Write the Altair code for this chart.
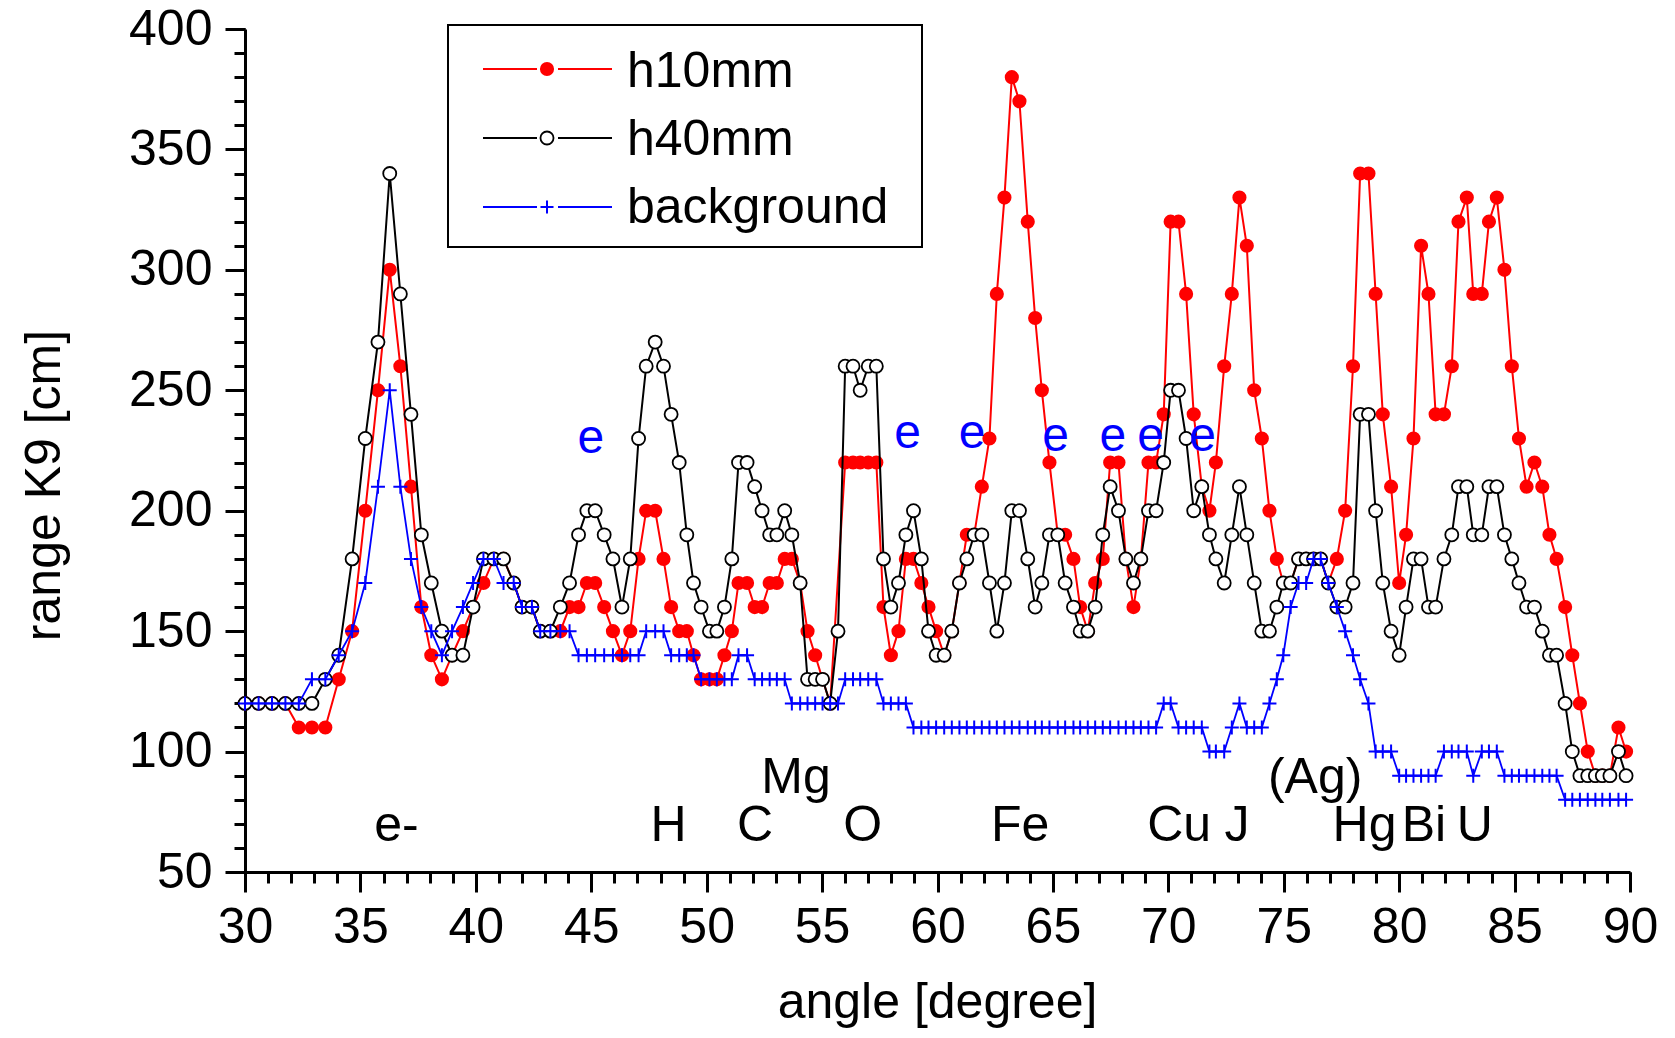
import altair as alt
import pandas as pd

# ---------------- data ----------------
angle = [
    30.0, 30.59, 31.17, 31.75, 32.33, 32.9, 33.48, 34.06, 34.64, 35.21,
    35.76, 36.27, 36.73, 37.19, 37.64, 38.07, 38.53, 38.97, 39.44, 39.88,
    40.33, 40.78, 41.2, 41.64, 42.0, 42.43, 42.79, 43.23, 43.66, 44.06,
    44.45, 44.81, 45.17, 45.56, 45.94, 46.33, 46.69, 47.05, 47.38, 47.77,
    48.13, 48.46, 48.81, 49.14, 49.43, 49.76,
    50.12, 50.44, 50.77, 51.09, 51.38, 51.75, 52.08, 52.4, 52.73, 53.04,
    53.38, 53.69, 54.05, 54.37, 54.7, 55.02, 55.35, 55.69, 56.0, 56.34,
    56.65, 57.0, 57.35, 57.66, 57.98, 58.31, 58.63, 58.96, 59.3, 59.61,
    59.94,
    60.29, 60.62, 60.95, 61.27, 61.59, 61.92, 62.25, 62.57, 62.9, 63.22,
    63.55, 63.91, 64.23, 64.52, 64.85, 65.21, 65.53, 65.89, 66.18, 66.51,
    66.83, 67.16, 67.48, 67.84, 68.16, 68.49, 68.81, 69.14, 69.47, 69.8,
    70.1, 70.44, 70.77, 71.1, 71.45, 71.78, 72.06, 72.42, 72.75, 73.08,
    73.4, 73.72, 74.05, 74.38, 74.7, 74.98, 75.3, 75.64, 75.97, 76.29,
    76.6, 76.93, 77.3, 77.66, 78.0, 78.31, 78.67, 78.98, 79.29, 79.65,
    80.0, 80.3, 80.62, 80.95, 81.27, 81.58, 81.94, 82.28, 82.57, 82.93,
    83.21, 83.58, 83.89, 84.23, 84.56, 84.88, 85.19, 85.52, 85.86, 86.2,
    86.51, 86.82, 87.19, 87.5, 87.83, 88.17, 88.5, 88.8, 89.13, 89.5,
    89.83,
]

h10mm = [
    120, 120, 120, 120, 110, 110, 110, 130, 150, 200,
    250, 300, 260, 210, 160, 140, 130, 140, 150, 160,
    170, 180, 180, 170, 160, 160, 150, 150, 150, 160,
    160, 170, 170, 160, 150, 140, 150, 180, 200, 200,
    180, 160, 150, 150, 140, 130,
    130, 130, 140, 150, 170, 170, 160, 160, 170, 170,
    180, 180, 170, 150, 140, 130, 120, None, 220, 220,
    220, 220, 220, 160, 140, 150, 180, 180, 170, 160,
    150,
    140, 150, 170, 190, 190, 210, 230, 290, 330, 380,
    370, 320, 280, 250, 220, 190, 190, 180, 160, 150,
    170, 180, 220, 220, 180, 160, 180, 220, 220, 240,
    320, 320, 290, 240, 210, 200, 220, 260, 290, 330,
    310, 250, 230, 200, 180, 170, 170, 180, 180, 180,
    180, 170, 180, 200, 260, 340, 340, 290, 240, 210,
    170, 190, 230, 310, 290, 240, 240, 260, 320, 330,
    290, 290, 320, 330, 300, 260, 230, 210, 220, 210,
    190, 180, 160, 140, 120, 100, 90, 90, 90, 110,
    100,
]

h40mm = [
    120, 120, 120, 120, 120, 120, 130, 140, 180, 230,
    270, 340, 290, 240, 190, 170, 150, 140, 140, 160,
    180, 180, 180, 170, 160, 160, 150, 150, 160, 170,
    190, 200, 200, 190, 180, 160, 180, 230, 260, 270,
    260, 240, 220, 190, 170, 160,
    150, 150, 160, 180, 220, 220, 210, 200, 190, 190,
    200, 190, 170, 130, 130, 130, 120, 150, 260, 260,
    250, 260, 260, 180, 160, 170, 190, 200, 180, 150,
    140,
    140, 150, 170, 180, 190, 190, 170, 150, 170, 200,
    200, 180, 160, 170, 190, 190, 170, 160, 150, 150,
    160, 190, 210, 200, 180, 170, 180, 200, 200, 220,
    250, 250, 230, 200, 210, 190, 180, 170, 190, 210,
    190, 170, 150, 150, 160, 170, 170, 180, 180, 180,
    180, 170, 160, 160, 170, 240, 240, 200, 170, 150,
    140, 160, 180, 180, 160, 160, 180, 190, 210, 210,
    190, 190, 210, 210, 190, 180, 170, 160, 160, 150,
    140, 140, 120, 100, 90, 90, 90, 90, 90, 100,
    90,
]

background = [
    120, 120, 120, 120, 120, 130, 130, 140, 150, 170,
    210, 250, 210, 180, 160, 150, 140, 150, 160, 170,
    180, 180, 170, 170, 160, 160, 150, 150, 150, 150,
    140, 140, 140, 140, 140, 140, 140, 140, 150, 150,
    150, 140, 140, 140, 140, 130,
    130, 130, 130, 130, 140, 140, 130, 130, 130, 130,
    130, 120, 120, 120, 120, 120, 120, 120, 130, 130,
    130, 130, 130, 120, 120, 120, 120, 110, 110, 110,
    110,
    110, 110, 110, 110, 110, 110, 110, 110, 110, 110,
    110, 110, 110, 110, 110, 110, 110, 110, 110, 110,
    110, 110, 110, 110, 110, 110, 110, 110, 110, 120,
    120, 110, 110, 110, 110, 100, 100, 100, 110, 120,
    110, 110, 110, 120, 130, 140, 160, 170, 170, 180,
    180, 170, 160, 150, 140, 130, 120, 100, 100, 100,
    90, 90, 90, 90, 90, 90, 100, 100, 100, 100,
    90, 100, 100, 100, 90, 90, 90, 90, 90, 90,
    90, 90, 80, 80, 80, 80, 80, 80, 80, 80,
    80,
]

assert len(angle) == len(h10mm) == len(h40mm) == len(background)

element_text = ["e-", "H", "C", "Mg", "O", "Fe", "Cu", "J", "(Ag)", "Hg", "Bi", "U"]
element_x = [36.56, 48.35, 52.1, 53.87, 56.76, 63.58, 70.47, 72.98, 76.36, 78.5, 81.07, 83.28]
element_y = [63, 63, 63, 83, 63, 63, 63, 63, 83, 63, 63, 63]

e_x = [44.98, 58.7, 61.5, 65.12, 67.6, 69.23, 71.48]
e_y = [224, 226, 226, 225, 225, 225, 225]

series_names = ["h10mm", "h40mm", "background"]

# ---------------- build tables ----------------
rows = []
for name, vals in zip(series_names, [h10mm, h40mm, background]):
    for a, v in zip(angle, vals):
        if v is not None:
            rows.append({"series": name, "angle": a, "value": v})
df = pd.DataFrame(rows)
labels_df = pd.DataFrame({"text": element_text, "angle": element_x, "value": element_y})
e_df = pd.DataFrame({"text": ["e"] * len(e_x), "angle": e_x, "value": e_y})

FONT = "Liberation Sans, Arial, Helvetica, sans-serif"
RED = "#ff0000"
BLUE = "#0000ff"
CROSS = "M-1,0L1,0M0,-1L0,1"

xscale = alt.Scale(domain=[30, 90], nice=False, zero=False)
yscale = alt.Scale(domain=[50, 400], nice=False, zero=False)

major_x_axis = alt.Axis(
    orient="bottom", values=list(range(30, 91, 5)), format="d",
    tickSize=20, tickWidth=3, tickColor="black",
    domainWidth=3, domainColor="black", grid=False,
    labelFont=FONT, labelFontSize=50, labelColor="black", labelPadding=10,
    labelFlush=False, labelOverlap=False, labelBound=False,
    title="angle [degree]", titleFont=FONT, titleFontSize=50, titleFontWeight="normal",
    titleColor="black", titleBaseline="alphabetic", titleX=692, titleY=145,
)
minor_x_axis = alt.Axis(
    orient="bottom", values=list(range(30, 91)), tickSize=11, tickWidth=3,
    tickColor="black", domain=False, labels=False, grid=False, title=None,
)
major_y_axis = alt.Axis(
    orient="left", values=list(range(50, 401, 50)), format="d",
    tickSize=20, tickWidth=3, tickColor="black",
    domainWidth=3, domainColor="black", grid=False,
    labelFont=FONT, labelFontSize=50, labelColor="black", labelPadding=13,
    labelFlush=False, labelOverlap=False, labelBound=False,
    title="range K9 [cm]", titleFont=FONT, titleFontSize=50, titleFontWeight="normal",
    titleColor="black", titleAngle=270, titleBaseline="alphabetic",
    titleX=-186, titleY=456,
)
minor_y_axis = alt.Axis(
    orient="left", values=list(range(50, 401, 10)), tickSize=11, tickWidth=3,
    tickColor="black", domain=False, labels=False, grid=False, title=None,
)

base = alt.Chart(df)


def sel(name):
    return base.transform_filter(alt.datum.series == name)


red_line = sel("h10mm").mark_line(color=RED, strokeWidth=2).encode(
    x=alt.X("angle:Q", scale=xscale, axis=major_x_axis),
    y=alt.Y("value:Q", scale=yscale, axis=major_y_axis),
)
red_pts = sel("h10mm").mark_point(
    shape="circle", filled=True, fill=RED, stroke=RED, strokeWidth=0, size=200, opacity=1
).encode(
    x=alt.X("angle:Q", scale=xscale, axis=minor_x_axis),
    y=alt.Y("value:Q", scale=yscale, axis=minor_y_axis),
)
black_line = sel("h40mm").mark_line(color="black", strokeWidth=2).encode(
    x=alt.X("angle:Q", scale=xscale, axis=None),
    y=alt.Y("value:Q", scale=yscale, axis=None),
)
black_pts = sel("h40mm").mark_point(
    shape="circle", filled=True, fill="white", stroke="black", strokeWidth=1.8, size=170, opacity=1
).encode(
    x=alt.X("angle:Q", scale=xscale, axis=None),
    y=alt.Y("value:Q", scale=yscale, axis=None),
)
blue_line = sel("background").mark_line(color=BLUE, strokeWidth=1.8).encode(
    x=alt.X("angle:Q", scale=xscale, axis=None),
    y=alt.Y("value:Q", scale=yscale, axis=None),
)
blue_pts = sel("background").mark_point(
    shape=CROSS, filled=False, stroke=BLUE, strokeWidth=2, size=196, opacity=1
).encode(
    x=alt.X("angle:Q", scale=xscale, axis=None),
    y=alt.Y("value:Q", scale=yscale, axis=None),
)

elem_text = alt.Chart(labels_df).mark_text(
    font=FONT, fontSize=50, color="black", align="center", baseline="alphabetic"
).encode(
    x=alt.X("angle:Q", scale=xscale, axis=None),
    y=alt.Y("value:Q", scale=yscale, axis=None),
    text="text:N",
)
e_text = alt.Chart(e_df).mark_text(
    font=FONT, fontSize=48, color=BLUE, align="center", baseline="alphabetic"
).encode(
    x=alt.X("angle:Q", scale=xscale, axis=None),
    y=alt.Y("value:Q", scale=yscale, axis=None),
    text="text:N",
)

# ---------------- manual legend (pixel positions inside the plot area) ----------------
one = pd.DataFrame({"k": [0]})
legend_layers = [
    alt.Chart(one).mark_rect(fill="white", stroke="black", strokeWidth=2).encode(
        x=alt.value(203), x2=alt.value(677), y=alt.value(-4), y2=alt.value(218)
    )
]
leg_y = [40, 109, 178]
leg_base = [58, 126, 194]
leg_colors = [RED, "black", BLUE]
for name, ly, lb, col in zip(series_names, leg_y, leg_base, leg_colors):
    legend_layers.append(
        alt.Chart(one).mark_rule(color=col, strokeWidth=2).encode(
            x=alt.value(238), x2=alt.value(292), y=alt.value(ly)
        )
    )
    legend_layers.append(
        alt.Chart(one).mark_rule(color=col, strokeWidth=2).encode(
            x=alt.value(313), x2=alt.value(367), y=alt.value(ly)
        )
    )
    legend_layers.append(
        alt.Chart(one).mark_text(
            text=name, font=FONT, fontSize=50, color="black", align="left", baseline="alphabetic"
        ).encode(x=alt.value(382), y=alt.value(lb))
    )
legend_layers.append(
    alt.Chart(one).mark_point(shape="circle", filled=True, fill=RED, strokeWidth=0, size=200, opacity=1)
    .encode(x=alt.value(302), y=alt.value(leg_y[0]))
)
legend_layers.append(
    alt.Chart(one).mark_point(shape="circle", filled=True, fill="white", stroke="black",
                              strokeWidth=1.8, size=170, opacity=1)
    .encode(x=alt.value(302), y=alt.value(leg_y[1]))
)
legend_layers.append(
    alt.Chart(one).mark_point(shape=CROSS, filled=False, stroke=BLUE, strokeWidth=2, size=170, opacity=1)
    .encode(x=alt.value(302), y=alt.value(leg_y[2]))
)

chart = alt.layer(
    red_line, red_pts, black_line, black_pts, blue_line, blue_pts, elem_text, e_text, *legend_layers
).resolve_axis(
    x="independent", y="independent"
).properties(
    width=1385, height=843,
    autosize=alt.AutoSizeParams(type="none"),
    padding={"left": 237, "top": 21, "right": 30, "bottom": 157},
    background="white",
).configure_view(stroke="transparent")

chart.save("out.html", embed_options={"renderer": "svg", "actions": False})
